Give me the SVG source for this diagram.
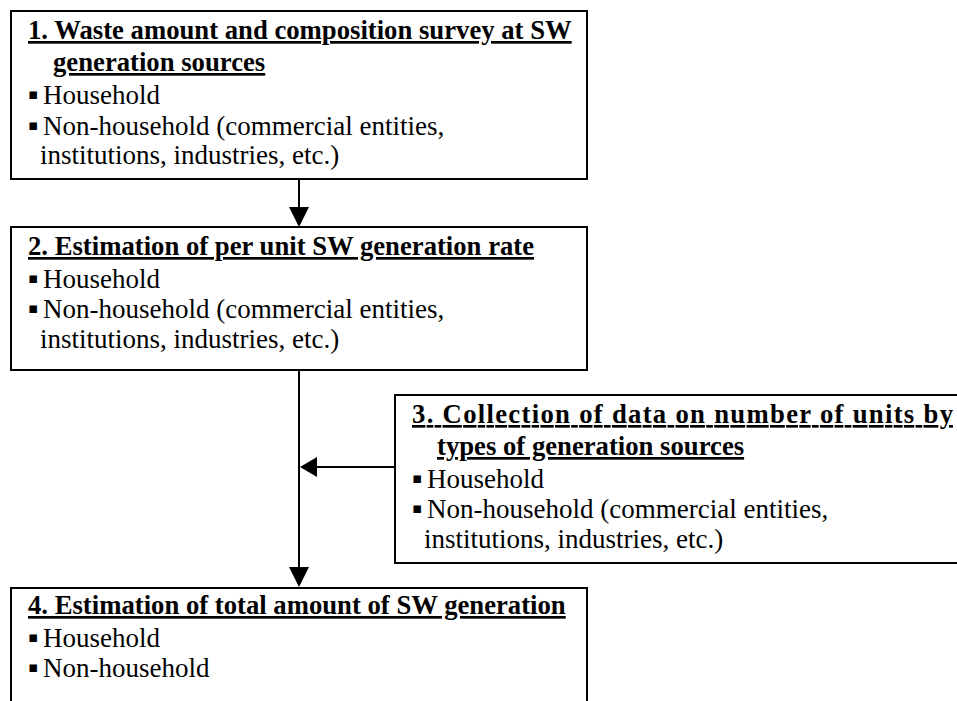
<svg xmlns="http://www.w3.org/2000/svg" width="957" height="701" viewBox="0 0 957 701">
  <style>
    .box { fill: #ffffff; stroke: #000000; stroke-width: 2; }
    .title { font-family: "Liberation Serif", "Times New Roman", serif; font-size: 26.7px; font-weight: bold; fill: #000; text-decoration: underline; }
    .body { font-family: "Liberation Serif", "Times New Roman", serif; font-size: 27px; fill: #000; }
    .bullet { font-family: "DejaVu Sans", sans-serif; font-size: 15px; fill: #000; }
    .wire { stroke: #000000; stroke-width: 2; fill: none; }
    .head { fill: #000000; }
  </style>
  <rect width="957" height="701" fill="#ffffff"/>

  <!-- connectors -->
  <g id="connectors">
    <line class="wire" x1="299" y1="179" x2="299" y2="208"/>
    <polygon class="head" points="289,207 309,207 299,227"/>
    <line class="wire" x1="299" y1="370" x2="299" y2="568"/>
    <polygon class="head" points="289,567 309,567 299,587"/>
    <line class="wire" x1="395" y1="467" x2="316" y2="467"/>
    <polygon class="head" points="317,457 317,477 300,467"/>
  </g>

  <!-- step 1 -->
  <g id="step1">
    <rect class="box" x="11" y="11" width="576" height="168"/>
    <text class="title" x="28" y="39">1. Waste amount and composition survey at SW</text>
    <text class="title" x="53" y="71">generation sources</text>
    <text class="bullet" x="28" y="99">▪</text>
    <text class="body" x="43" y="104">Household</text>
    <text class="bullet" x="28" y="130">▪</text>
    <text class="body" x="43" y="135">Non-household (commercial entities,</text>
    <text class="body" x="40" y="164">institutions, industries, etc.)</text>
  </g>

  <!-- step 2 -->
  <g id="step2">
    <rect class="box" x="11" y="227" width="576" height="143"/>
    <text class="title" x="28" y="255">2. Estimation of per unit SW generation rate</text>
    <text class="bullet" x="28" y="283">▪</text>
    <text class="body" x="43" y="288">Household</text>
    <text class="bullet" x="28" y="313">▪</text>
    <text class="body" x="43" y="318">Non-household (commercial entities,</text>
    <text class="body" x="40" y="348">institutions, industries, etc.)</text>
  </g>

  <!-- step 3 -->
  <g id="step3">
    <rect class="box" x="395" y="395" width="570" height="168"/>
    <text class="title" x="412" y="423" textLength="541" lengthAdjust="spacing">3. Collection of data on number of units by</text>
    <text class="title" x="437" y="455">types of generation sources</text>
    <text class="bullet" x="412" y="483">▪</text>
    <text class="body" x="427" y="488">Household</text>
    <text class="bullet" x="412" y="513">▪</text>
    <text class="body" x="427" y="518">Non-household (commercial entities,</text>
    <text class="body" x="424" y="548">institutions, industries, etc.)</text>
  </g>

  <!-- step 4 -->
  <g id="step4">
    <rect class="box" x="11" y="588" width="576" height="120"/>
    <text class="title" x="28" y="614">4. Estimation of total amount of SW generation</text>
    <text class="bullet" x="28" y="642">▪</text>
    <text class="body" x="43" y="647">Household</text>
    <text class="bullet" x="28" y="672">▪</text>
    <text class="body" x="43" y="677">Non-household</text>
  </g>
</svg>
